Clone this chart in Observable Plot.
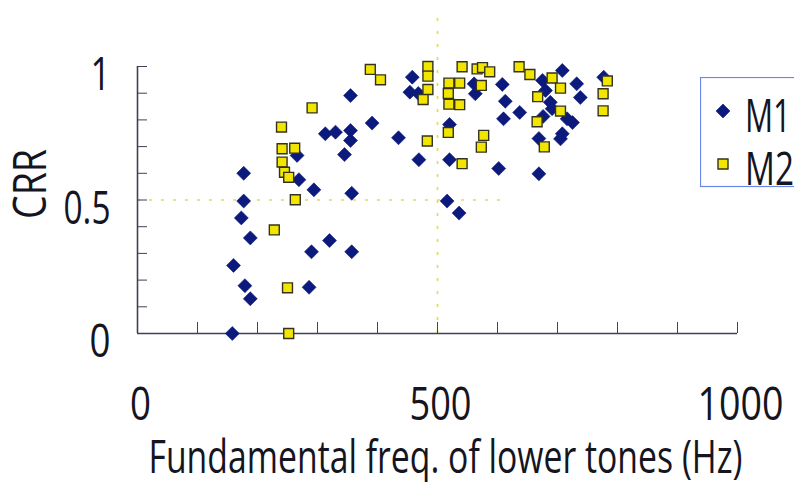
<!DOCTYPE html>
<html><head><meta charset="utf-8">
<script src="https://cdn.jsdelivr.net/npm/d3@7"></script>
<script src="https://cdn.jsdelivr.net/npm/@observablehq/plot@0.6"></script>
<style>
html,body{margin:0;padding:0;background:#fff;}
#wrap{position:relative;width:794px;height:482px;overflow:hidden;background:#fff;}
#wrap > svg{position:absolute;left:0;top:0;}
</style></head><body><div id="wrap"></div>
<script>
// ---- data ----
const seriesNames = ["M1", "M2"];
const m1Freq = [355,391,313,330,355,355,266,345,177,269,294,357,177,173,188,320,290,357,160,179,188,286,158,
  458,454,468,435,469,520,520,516,536,561,563,608,613,610,637,602,669,669,676,708,675,680,688,691,732,738,716,725,708,705,777];
const m1CRR  = [0.891,0.788,0.748,0.754,0.760,0.723,0.667,0.670,0.600,0.576,0.538,0.525,0.496,0.433,0.358,0.348,0.306,0.306,0.255,0.179,0.130,0.173,0.0,
  0.960,0.904,0.899,0.733,0.651,0.783,0.651,0.496,0.451,0.935,0.898,0.933,0.870,0.804,0.828,0.618,0.598,0.730,0.813,0.985,0.948,0.910,0.866,0.842,0.935,0.884,0.804,0.790,0.748,0.729,0.960];
const m2Freq = [388,405,291,240,241,262,241,245,252,263,228,250,252,
  484,484,484,476,519,518,519,537,537,541,566,575,587,573,636,654,691,705,667,705,666,678,783,776,776,483,518,577,573,541];
const m2CRR  = [0.989,0.950,0.845,0.773,0.692,0.694,0.642,0.604,0.585,0.501,0.388,0.171,0.0,
  1.0,0.964,0.914,0.876,0.938,0.899,0.859,0.938,0.857,0.999,0.991,0.996,0.980,0.929,0.999,0.970,0.957,0.919,0.887,0.833,0.793,0.699,0.946,0.898,0.834,0.721,0.753,0.742,0.698,0.636];
const xTicks = [0,100,200,300,400,500,600,700,800,900,1000];
const yTicks = [0,0.1,0.2,0.3,0.4,0.5,0.6,0.7,0.8,0.9,1];
const xTickLabels = [0, 500, 1000];
const yTickLabels = [0, 0.5, 1];
const refFreq = 500, refFreqTop = 1.2;
const refCRR = 0.5, refCRREnd = 620;
const xTitle = "Fundamental freq. of lower tones (Hz)";
const yTitle = "CRR";

// ---- styles ----
const FONT = "'Open Sans','Noto Sans',sans-serif";
const FS = 46;
const blue = "#0b1a7c", yellow = "#f2e600", sqStroke = "#34321e";
const axisColor = "#3d4257", refColor = "#e3da55", textColor = "#15151f";
// condensed look: rendered width of each text (the reference font is a narrow face)
const textWidths = {"0": 21, "1": 20, "0.5": 47, "500": 62, "1000": 86, "CRR": 70, "M1": 46, "M2": 49};
textWidths[xTitle] = 594;

const m1 = m1Freq.map((f, i) => ({freq: f, crr: m1CRR[i]}));
const m2 = m2Freq.map((f, i) => ({freq: f, crr: m2CRR[i]}));

const plot = Plot.plot({
  width: 794, height: 482,
  marginLeft: 137, marginRight: 57, marginTop: 66, marginBottom: 149,
  x: {domain: [0, 1000], axis: null},
  y: {domain: [0, 1], axis: null},
  style: {fontFamily: FONT, background: "white", overflow: "visible", color: textColor},
  marks: [
    Plot.ruleX([refFreq], {y1: 0, y2: refFreqTop, stroke: refColor, strokeWidth: 1.7, strokeDasharray: "3,10"}),
    Plot.ruleY([refCRR], {x1: 0, x2: refCRREnd, stroke: refColor, strokeWidth: 1.7, strokeDasharray: "3,9"}),
    Plot.axisX(xTicks, {tickSize: -11, tickFormat: () => "", label: null, stroke: axisColor}),
    Plot.axisY(yTicks, {tickSize: -10, tickFormat: () => "", label: null, stroke: axisColor}),
    Plot.ruleY([0], {stroke: axisColor, strokeWidth: 1.6}),
    Plot.ruleX([0], {stroke: axisColor, strokeWidth: 1.6}),
    Plot.text(xTickLabels, {x: d => d, frameAnchor: "bottom", lineAnchor: "middle", textAnchor: "middle", dy: 72, dx: 3, fontSize: FS, fill: textColor, text: d => String(d)}),
    Plot.text(yTickLabels, {y: d => d, frameAnchor: "left", lineAnchor: "middle", textAnchor: "end", dx: -27, dy: 9, fontSize: FS, fill: textColor, text: d => String(d)}),
    Plot.text([xTitle], {frameAnchor: "bottom", lineAnchor: "middle", textAnchor: "middle", dy: 125, dx: 8, fontSize: FS, fill: textColor}),
    Plot.text([yTitle], {frameAnchor: "left", lineAnchor: "middle", textAnchor: "middle", dx: -106, dy: -16, rotate: -90, fontSize: FS, fill: textColor}),
    Plot.dot(m1, {x: "freq", y: "crr", symbol: "diamond2", r: 6.3, fill: blue, stroke: blue, strokeWidth: 0.6}),
    Plot.dot(m2, {x: "freq", y: "crr", symbol: "square", r: 5.6, fill: yellow, stroke: sqStroke, strokeWidth: 1.4})
  ]
});
document.getElementById("wrap").appendChild(plot);

// ---- legend (right side, as in the reference) ----
const lg = d3.select("#wrap").append("svg")
  .style("position", "absolute").style("left", "700px").style("top", "77px")
  .attr("width", 100).attr("height", 112);
lg.append("rect").attr("x", 0.5).attr("y", 0.5).attr("width", 120).attr("height", 109)
  .attr("fill", "white").attr("stroke", "#6b86ea").attr("stroke-width", 1.2);
const items = [
  {name: seriesNames[0], sym: d3.symbolDiamond2, size: 125, fill: blue, stroke: blue, sw: 0.6, cy: 34},
  {name: seriesNames[1], sym: d3.symbolSquare, size: 100, fill: yellow, stroke: sqStroke, sw: 1.4, cy: 87}
];
items.forEach(it => {
  lg.append("path").attr("d", d3.symbol(it.sym, it.size)())
    .attr("transform", `translate(23,${it.cy})`)
    .attr("fill", it.fill).attr("stroke", it.stroke).attr("stroke-width", it.sw);
  lg.append("text").attr("x", 45).attr("y", it.cy + 5).attr("dy", "0.35em")
    .attr("font-family", FONT).attr("font-size", FS).attr("fill", textColor).text(it.name);
});

d3.select("#wrap").selectAll("text").each(function() {
  const w = textWidths[this.textContent];
  if (w) d3.select(this).attr("textLength", w).attr("lengthAdjust", "spacingAndGlyphs");
});
</script></body></html>
